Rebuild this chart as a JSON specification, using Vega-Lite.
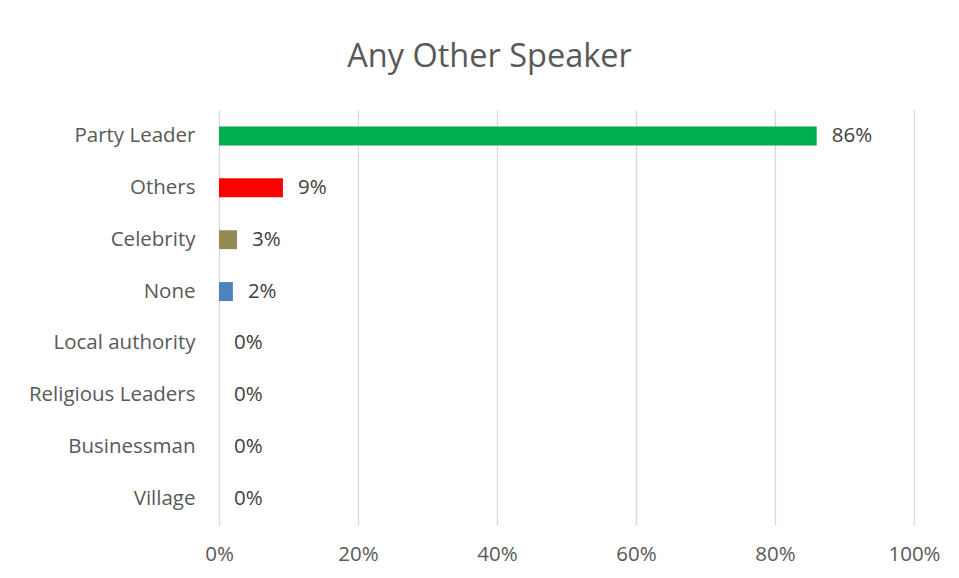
{
  "$schema": "https://vega.github.io/schema/vega-lite/v6.json",
  "autosize": {"type": "none"},
  "width": 695,
  "height": 415,
  "padding": {"left": 219, "top": 110, "right": 45, "bottom": 53},
  "background": "white",
  "title": {
    "text": "Any Other Speaker",
    "font": "Open Sans",
    "fontSize": 32.5,
    "fontWeight": "normal",
    "color": "#595959",
    "anchor": "middle",
    "dx": -77,
    "offset": 37
  },
  "data": {
    "values": [
      {"speaker": "Party Leader", "share": 0.86},
      {"speaker": "Others", "share": 0.092},
      {"speaker": "Celebrity", "share": 0.026},
      {"speaker": "None", "share": 0.02},
      {"speaker": "Local authority", "share": 0},
      {"speaker": "Religious Leaders", "share": 0},
      {"speaker": "Businessman", "share": 0},
      {"speaker": "Village", "share": 0}
    ]
  },
  "encoding": {
    "y": {
      "field": "speaker",
      "type": "nominal",
      "sort": null,
      "scale": {"paddingInner": 0.635, "paddingOuter": 0.3175},
      "axis": {
        "title": null,
        "ticks": false,
        "domain": false,
        "grid": false,
        "labelFont": "Open Sans",
        "labelFontSize": 20.5,
        "labelColor": "#595959",
        "labelPadding": 24
      }
    },
    "x": {
      "field": "share",
      "type": "quantitative",
      "scale": {"domain": [0, 1], "nice": false},
      "axis": {
        "title": null,
        "values": [0, 0.2, 0.4, 0.6, 0.8, 1],
        "format": ".0%",
        "ticks": false,
        "domain": false,
        "grid": true,
        "gridColor": "#d9d9d9",
        "gridWidth": 1.3,
        "labelFont": "Open Sans",
        "labelFontSize": 20.5,
        "labelColor": "#595959",
        "labelPadding": 19,
        "labelFlush": false,
        "labelAlign": "center"
      }
    }
  },
  "layer": [
    {
      "mark": {"type": "bar"},
      "encoding": {
        "color": {
          "field": "speaker",
          "type": "nominal",
          "legend": null,
          "scale": {
            "domain": ["Party Leader", "Others", "Celebrity", "None", "Local authority", "Religious Leaders", "Businessman", "Village"],
            "range": ["#00B050", "#FF0000", "#948A54", "#4F81BD", "#4F81BD", "#4F81BD", "#4F81BD", "#4F81BD"]
          }
        }
      }
    },
    {
      "mark": {
        "type": "text",
        "align": "left",
        "baseline": "middle",
        "dx": 15,
        "font": "Open Sans",
        "fontSize": 20.5,
        "color": "#404040"
      },
      "encoding": {
        "text": {"field": "share", "type": "quantitative", "format": ".0%"}
      }
    }
  ],
  "config": {"view": {"stroke": null}}
}
